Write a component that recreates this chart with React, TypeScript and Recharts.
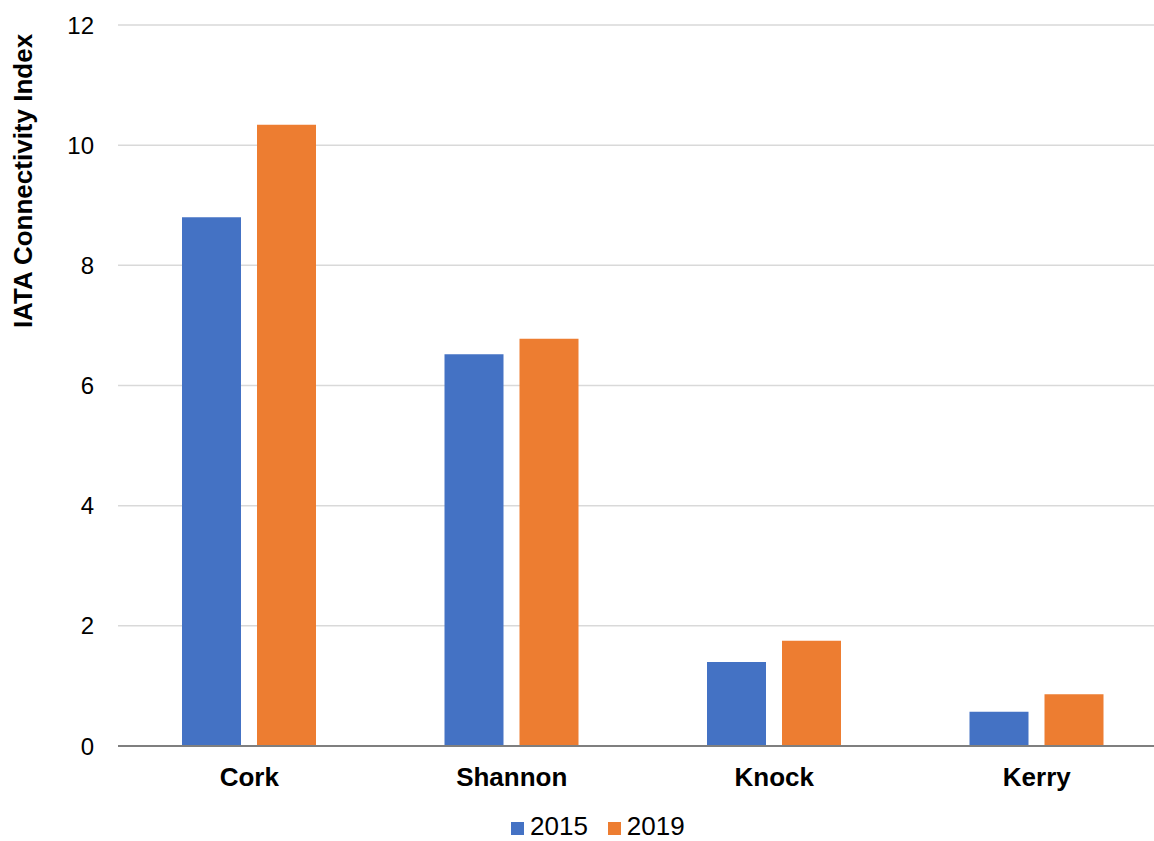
import { BarChart, Bar, XAxis, YAxis, CartesianGrid, Legend, Label } from 'recharts'

// ── Data ───────────────────────────────────────────────────────

const AIRPORTS = ['Cork', 'Shannon', 'Knock', 'Kerry']
const VALUES_2015 = [8.8, 6.52, 1.4, 0.57]
const VALUES_2019 = [10.34, 6.78, 1.75, 0.86]
const Y_TICKS = [0, 2, 4, 6, 8, 10, 12]

const SERIES = [
  { key: 'y2015', name: '2015', color: '#4472C4' },
  { key: 'y2019', name: '2019', color: '#ED7D31' },
]

const data = AIRPORTS.map((name, i) => ({
  name,
  y2015: VALUES_2015[i],
  y2019: VALUES_2019[i],
}))

const FONT = '"Liberation Sans", Arial, sans-serif'

// ── Legend ─────────────────────────────────────────────────────

function ChartLegend() {
  return (
    <div
      style={{
        height: 40,
        display: 'flex',
        alignItems: 'flex-end',
        paddingLeft: 511,
        boxSizing: 'border-box',
        fontFamily: FONT,
        fontSize: 26,
        color: '#000',
      }}
    >
      {SERIES.map((s) => (
        <div key={s.key} style={{ display: 'flex', alignItems: 'center', marginRight: 20, lineHeight: '29px' }}>
          <span style={{ width: 13, height: 13, background: s.color, display: 'inline-block', marginRight: 6, marginTop: 4 }} />
          <span>{s.name}</span>
        </div>
      ))}
    </div>
  )
}

// ── Chart ──────────────────────────────────────────────────────

export default function App() {
  // plot runs past the right edge in the original, so the chart is a bit wider than the frame
  return (
    <div style={{ position: 'absolute', left: 0, top: 0, width: 1154, height: 841, overflow: 'hidden', background: '#fff' }}>
      <BarChart
        width={1168}
        height={841}
        data={data}
        margin={{ top: 25, right: 0, left: 0, bottom: 0 }}
        barGap={16}
      >
        <CartesianGrid vertical={false} stroke="#d9d9d9" strokeWidth={1.5} />
        <XAxis
          dataKey="name"
          height={55}
          tickLine={false}
          tickMargin={16}
          axisLine={{ stroke: '#7f7f7f', strokeWidth: 2 }}
          tick={{ fontSize: 26, fontWeight: 'bold', fill: '#000', fontFamily: FONT }}
        />
        <YAxis
          width={118}
          domain={[0, 12]}
          ticks={Y_TICKS}
          tickLine={false}
          axisLine={false}
          tickMargin={18}
          tick={{ fontSize: 24, fill: '#000', fontFamily: FONT }}
        >
          <Label
            content={() => (
              <text
                x={23}
                y={181}
                transform="rotate(-90 23 181)"
                textAnchor="middle"
                dominantBaseline="central"
                fontSize={26}
                fontWeight="bold"
                fontFamily={FONT}
                fill="#000"
              >
                IATA Connectivity Index
              </text>
            )}
          />
        </YAxis>
        <Legend verticalAlign="bottom" content={() => <ChartLegend />} />
        {SERIES.map((s) => (
          <Bar key={s.key} dataKey={s.key} name={s.name} fill={s.color} barSize={59} isAnimationActive={false} />
        ))}
      </BarChart>
    </div>
  )
}
